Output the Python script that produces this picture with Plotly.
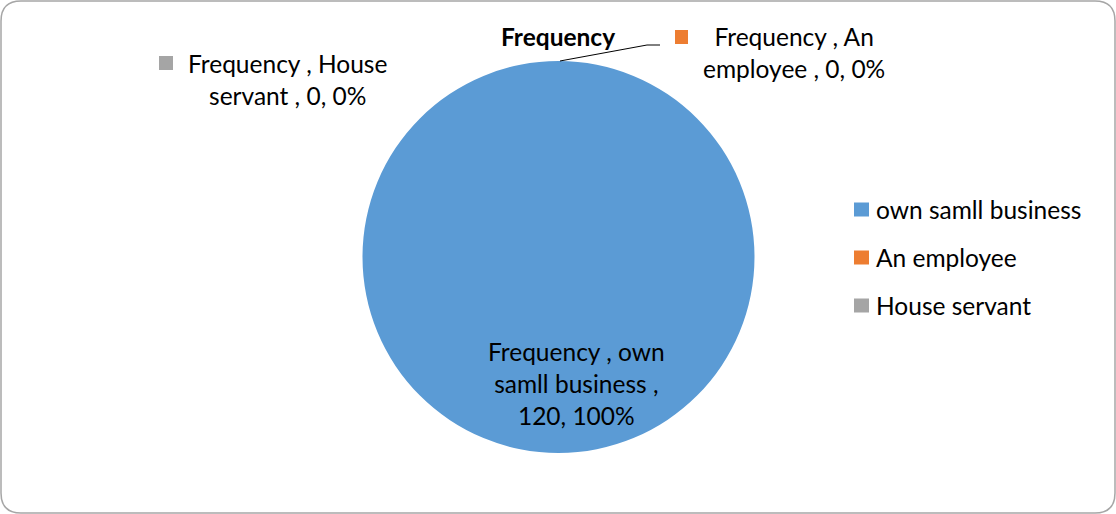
import plotly.graph_objects as go

categories = ["own samll business", "An employee", "House servant"]
values = [120, 0, 0]
percents = ["100%", "0%", "0%"]
colors = ["#5B9BD5", "#ED7D31", "#A5A5A5"]
series_name = "Frequency"

W, H = 1116, 514
FONT = "Lato"
FS = 24.5

def px(x):
    return x / W

def py(y):
    return 1 - y / H

fig = go.Figure()
fig.add_trace(go.Pie(
    labels=categories, values=values, marker=dict(colors=colors),
    sort=False, direction="clockwise", rotation=0,
    textinfo="none", hoverinfo="none", showlegend=False,
    domain=dict(x=[px(362), px(755)], y=[py(453), py(61)]),
))

ann = []
shapes = []
# title
ann.append(dict(x=px(558), y=py(37), text="<b>%s</b>" % series_name, showarrow=False,
                font=dict(size=FS, color="#000"), xanchor="center", yanchor="middle"))
# leader line
shapes.append(dict(type="path", xref="paper", yref="paper",
                   path="M %f,%f L %f,%f L %f,%f" % (px(560), py(61), px(647), py(45), px(660), py(45)),
                   line=dict(color="#000", width=1)))

# inside label (own business)
ann.append(dict(x=px(576), y=py(383), text="Frequency , own<br>samll business ,<br>%d, %s" % (values[0], percents[0]),
                showarrow=False, align="center", font=dict(size=FS, color="#000"),
                xanchor="center", yanchor="middle"))
# employee label
ann.append(dict(x=px(794), y=py(53), text="Frequency , %s<br>employee , %d, %s" % ("An", values[1], percents[1]),
                showarrow=False, align="center", font=dict(size=FS, color="#000"),
                xanchor="center", yanchor="middle"))
shapes.append(dict(type="rect", xref="paper", yref="paper", x0=px(675), x1=px(688), y0=py(44), y1=py(30),
                   fillcolor=colors[1], line=dict(width=0)))
# house servant label
ann.append(dict(x=px(287), y=py(79), text="Frequency , House<br>servant , %d, %s" % (values[2], percents[2]),
                showarrow=False, align="center", font=dict(size=FS, color="#000"),
                xanchor="center", yanchor="middle"))
shapes.append(dict(type="rect", xref="paper", yref="paper", x0=px(159), x1=px(173), y0=py(70), y1=py(56),
                   fillcolor=colors[2], line=dict(width=0)))

# legend
for i, (c, col) in enumerate(zip(categories, colors)):
    yc = 209 + 48 * i
    shapes.append(dict(type="rect", xref="paper", yref="paper", x0=px(854), x1=px(869),
                       y0=py(yc + 7.5), y1=py(yc - 6.5), fillcolor=col, line=dict(width=0)))
    ann.append(dict(x=px(874), y=py(yc), text=c, showarrow=False, xanchor="left", yanchor="middle",
                    font=dict(size=FS, color="#000")))

# rounded border
r = 20
x0, y0, x1, y1 = 1, 1, W - 1, H - 1
path = (f"M {px(x0+r)},{py(y0)} L {px(x1-r)},{py(y0)} Q {px(x1)},{py(y0)} {px(x1)},{py(y0+r)} "
        f"L {px(x1)},{py(y1-r)} Q {px(x1)},{py(y1)} {px(x1-r)},{py(y1)} "
        f"L {px(x0+r)},{py(y1)} Q {px(x0)},{py(y1)} {px(x0)},{py(y1-r)} "
        f"L {px(x0)},{py(y0+r)} Q {px(x0)},{py(y0)} {px(x0+r)},{py(y0)} Z")
shapes.append(dict(type="path", xref="paper", yref="paper", path=path,
                   line=dict(color="#A6A6A6", width=1.5)))

fig.update_layout(
    width=W, height=H, margin=dict(l=0, r=0, t=0, b=0),
    paper_bgcolor="white", plot_bgcolor="white",
    font=dict(family=FONT, size=FS, color="#000"),
    annotations=ann, shapes=shapes, showlegend=False,
)
fig.write_html("out.html")
